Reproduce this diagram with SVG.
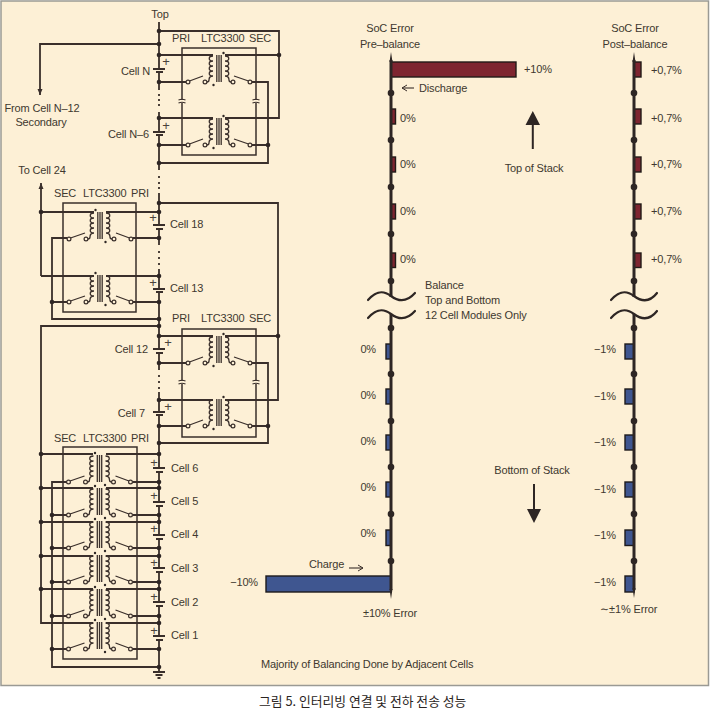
<svg xmlns="http://www.w3.org/2000/svg" width="711" height="710" viewBox="0 0 711 710">
<style>
text{font-family:"Liberation Sans",Arial,sans-serif;font-size:11px;fill:#40382f;letter-spacing:-.15px}
.m{text-anchor:middle}.e{text-anchor:end}
text.p{font-size:13px;text-anchor:middle;fill:#4a423a}
.w{fill:none;stroke:#3a2f2b;stroke-width:1.8}
.r{fill:none;stroke:#3a2f2b;stroke-width:1.5}
.t{fill:none;stroke:#3a2f2b;stroke-width:1.3}
.c{fill:#fdf0d6;stroke:#3a2f2b;stroke-width:1.2}
.n{fill:#2e2624}
.a{fill:none;stroke:#2e2624;stroke-width:3}
.v{fill:none;stroke:#2e2624;stroke-width:2.2;stroke-linecap:round}
.red{fill:#7e2530;stroke:#221a18;stroke-width:1.4}
.blu{fill:#3f5690;stroke:#1d1a1c;stroke-width:1.4}
.h{fill:none;stroke:#3a2f2b;stroke-width:1.1}
</style>
<defs>
<g id="xf">
<path class="t" d="M-2.200,0V27M0,0V27M2.200,0V27"/>
<path class="t" d="M-6,1c-5,0-5,5 0,5c-5,0-5,5 0,5c-5,0-5,5 0,5c-5,0-5,5 0,5c-3,0-4,2-4,4c0,1.500-1,2-2.200,2"/>
<path class="t" d="M6,1c5,0 5,5 0,5c5,0 5,5 0,5c5,0 5,5 0,5c5,0 5,5 0,5c3,0 4,2 4,4c0,1.500 1,2 2.200,2"/>
<path class="t" d="M-29.500,26L-16,21M29.500,26L15,21"/>
<circle class="c" cx="-31" cy="27" r="1.900"/><circle class="c" cx="-14" cy="27" r="1.900"/>
<circle class="c" cx="14" cy="27" r="1.900"/><circle class="c" cx="31" cy="27" r="1.900"/>
<circle class="n" cx="4.500" cy="-2" r="1.200"/><circle class="n" cx="-5.500" cy="30" r="1.200"/>
</g>
<marker id="ah" markerUnits="userSpaceOnUse" markerWidth="7" markerHeight="7" refX="6" refY="3" orient="auto"><path d="M0,.5L6,3L0,5.500z" fill="#3a2f2b"/></marker>
<marker id="oh" markerUnits="userSpaceOnUse" markerWidth="8" markerHeight="8" refX="7" refY="4" orient="auto"><path d="M2,1L7,4L2,7" fill="none" stroke="#3a2f2b" stroke-width="1"/></marker>
</defs>
<rect width="711" height="710" fill="#fff"/>
<rect x="1" y="1" width="707.500" height="684.500" fill="#fdf0d6" stroke="#9a9a94" stroke-width="1.500"/>

<g id="connectors">
<path class="w" d="M159,22V68M159,72V90M159,112V131M159,135V170M159,193V225M159,229V245M159,269V288M159,292V349M159,353V370M159,392V411M159,415V468M159,472V502M159,506V535M159,539V568M159,572V602M159,606V636M159,640V672"/>
<path class="w" d="M159,94V96M159,99V101M159,104V106M159,176V178M159,182V184M159,187V189M159,251V253M159,257V259M159,263V265M159,375V377M159,381V383M159,387V389"/>
<path class="w" d="M159,31H279V118H225M159,55H213M225,55H279"/>
<path class="w" d="M159,44H40V95" marker-end="url(#ah)"/>
<path class="w" d="M159,82H186M252,82H268V163H159M159,118H213M159,145H186M252,145H268"/>
<path class="w" d="M159,203H278V400H225M159,336H213M225,336H278M159,363H186M252,363H268V443H159M159,400H213M159,426H186M252,426H268"/>
<path class="w" d="M159,212H106M94,212H41M159,238H133M67,238H52V319H159M41,276H94M106,276H159M159,302H133M67,302H52"/>
<path class="w" d="M41,276V183" marker-end="url(#ah)"/>
<path class="w" d="M159,326H41V623H93M106,623H159M41,454H93M106,454H159M41,488H93M106,488H159M41,522H93M106,522H159M41,556H93M106,556H159M41,589H93M106,589H159"/>
<path class="w" d="M67,482H52V667H159M133,482H159M67,515H52M133,515H159M67,548H52M133,548H159M67,582H52M133,582H159M67,616H52M133,616H159M67,649H52M133,649H159"/>
<g>
<circle class="n" cx="159" cy="31" r="2.300"/><circle class="n" cx="159" cy="44" r="2.300"/><circle class="n" cx="159" cy="55" r="2.300"/><circle class="n" cx="159" cy="82" r="2.300"/><circle class="n" cx="159" cy="118" r="2.300"/><circle class="n" cx="159" cy="145" r="2.300"/><circle class="n" cx="159" cy="163" r="2.300"/><circle class="n" cx="159" cy="203" r="2.300"/><circle class="n" cx="159" cy="212" r="2.300"/><circle class="n" cx="159" cy="238" r="2.300"/><circle class="n" cx="159" cy="276" r="2.300"/><circle class="n" cx="159" cy="302" r="2.300"/><circle class="n" cx="159" cy="319" r="2.300"/><circle class="n" cx="159" cy="326" r="2.300"/><circle class="n" cx="159" cy="336" r="2.300"/><circle class="n" cx="159" cy="363" r="2.300"/><circle class="n" cx="159" cy="400" r="2.300"/><circle class="n" cx="159" cy="426" r="2.300"/><circle class="n" cx="159" cy="443" r="2.300"/><circle class="n" cx="159" cy="454" r="2.300"/><circle class="n" cx="159" cy="482" r="2.300"/><circle class="n" cx="159" cy="488" r="2.300"/><circle class="n" cx="159" cy="515" r="2.300"/><circle class="n" cx="159" cy="522" r="2.300"/><circle class="n" cx="159" cy="548" r="2.300"/><circle class="n" cx="159" cy="556" r="2.300"/><circle class="n" cx="159" cy="582" r="2.300"/><circle class="n" cx="159" cy="589" r="2.300"/><circle class="n" cx="159" cy="616" r="2.300"/><circle class="n" cx="159" cy="623" r="2.300"/><circle class="n" cx="159" cy="649" r="2.300"/><circle class="n" cx="159" cy="667" r="2.300"/>
<circle class="n" cx="279" cy="55" r="2.300"/><circle class="n" cx="268" cy="145" r="2.300"/><circle class="n" cx="278" cy="336" r="2.300"/><circle class="n" cx="268" cy="426" r="2.300"/>
<circle class="n" cx="41" cy="212" r="2.300"/><circle class="n" cx="52" cy="302" r="2.300"/>
<circle class="n" cx="41" cy="454" r="2.300"/><circle class="n" cx="41" cy="488" r="2.300"/><circle class="n" cx="41" cy="522" r="2.300"/><circle class="n" cx="41" cy="556" r="2.300"/><circle class="n" cx="41" cy="589" r="2.300"/>
<circle class="n" cx="52" cy="515" r="2.300"/><circle class="n" cx="52" cy="548" r="2.300"/><circle class="n" cx="52" cy="582" r="2.300"/><circle class="n" cx="52" cy="616" r="2.300"/><circle class="n" cx="52" cy="649" r="2.300"/>
</g>
</g>

<g id="cells">
<path class="w" d="M153,69H165M156,72H163M153,132H165M156,135H163M153,225H165M156,229H163M153,289H165M156,292H163M153,349H165M156,353H163M153,412H165M156,415H163M153,468H165M156,472H163M153,502H165M156,506H163M153,535H165M156,539H163M153,568H165M156,572H163M153,602H165M156,606H163M153,636H165M156,640H163"/>
<path class="w" d="M153,672H165M155.500,675H162.500M157.500,678H160.500"/>
<text x="166" y="66" class="p">+</text><text x="166" y="130" class="p">+</text><text x="153" y="222" class="p">+</text><text x="153" y="287" class="p">+</text><text x="168" y="347" class="p">+</text><text x="168" y="411" class="p">+</text><text x="154" y="467" class="p">+</text><text x="154" y="500" class="p">+</text><text x="154" y="533" class="p">+</text><text x="154" y="567" class="p">+</text><text x="154" y="601" class="p">+</text><text x="154" y="635" class="p">+</text>
</g>

<g id="module-top">
<path class="r" d="M182,100V48H256V100M256,103V155H182V103"/>
<path class="h" d="M178.500,100q3.500,-1.500 7,0M178.500,103q3.500,-1.500 7,0M252.500,100q3.500,-1.500 7,0M252.500,103q3.500,-1.500 7,0"/>
<use href="#xf" transform="translate(219,55)"/><use href="#xf" transform="translate(219,118)"/>
<text x="172" y="42">PRI</text><text x="201" y="42">LTC3300</text><text x="249" y="42">SEC</text>
</g>
<g id="module-mid-left">
<path class="r" d="M63,203H136V312H63Z"/>
<use href="#xf" transform="translate(100,212) scale(-1,1)"/><use href="#xf" transform="translate(100,275) scale(-1,1)"/>
<text x="54" y="197">SEC</text><text x="83" y="197">LTC3300</text><text x="131" y="197">PRI</text>
</g>
<g id="module-12">
<path class="r" d="M182,381V329H256V381M256,384V437H182V384"/>
<path class="h" d="M178.500,381q3.500,-1.500 7,0M178.500,384q3.500,-1.500 7,0M252.500,381q3.500,-1.500 7,0M252.500,384q3.500,-1.500 7,0"/>
<use href="#xf" transform="translate(219,336)"/><use href="#xf" transform="translate(219,399)"/>
<text x="172" y="322">PRI</text><text x="201" y="322">LTC3300</text><text x="249" y="322">SEC</text>
</g>
<g id="module-bottom">
<path class="r" d="M63,447H137V659H63Z"/>
<use href="#xf" transform="translate(99.500,455) scale(-1,1)"/><use href="#xf" transform="translate(99.500,488) scale(-1,1)"/><use href="#xf" transform="translate(99.500,521) scale(-1,1)"/><use href="#xf" transform="translate(99.500,555) scale(-1,1)"/><use href="#xf" transform="translate(99.500,589) scale(-1,1)"/><use href="#xf" transform="translate(99.500,622) scale(-1,1)"/>
<text x="54" y="442">SEC</text><text x="83" y="442">LTC3300</text><text x="131" y="442">PRI</text>
</g>

<g id="circuit-labels">
<text x="160" y="18" class="m">Top</text>
<text x="150" y="75" class="e">Cell N</text><text x="149" y="138" class="e">Cell N–6</text>
<text x="42" y="112" class="m">From Cell N–12</text><text x="41" y="126" class="m">Secondary</text>
<text x="42" y="174" class="m">To Cell 24</text>
<text x="170" y="228">Cell 18</text><text x="170" y="292">Cell 13</text>
<text x="148" y="353" class="e">Cell 12</text><text x="145" y="417" class="e">Cell 7</text>
<text x="171" y="472">Cell 6</text><text x="171" y="505">Cell 5</text><text x="171" y="538">Cell 4</text><text x="171" y="572">Cell 3</text><text x="171" y="606">Cell 2</text><text x="171" y="639">Cell 1</text>
</g>

<g id="chart-pre">
<rect class="red" x="391" y="62" width="125" height="15"/>
<rect class="red" x="391" y="109" width="4.500" height="15"/><rect class="red" x="391" y="157" width="4.500" height="15"/><rect class="red" x="391" y="204" width="4.500" height="15"/><rect class="red" x="391" y="253" width="4.500" height="14.500"/>
<rect class="blu" x="386" y="344" width="5" height="15"/><rect class="blu" x="386" y="389" width="5" height="15"/><rect class="blu" x="386" y="435" width="5" height="15"/><rect class="blu" x="386" y="482" width="5" height="15"/><rect class="blu" x="386" y="530" width="5" height="15.500"/>
<rect class="blu" x="266" y="576" width="125" height="16"/>
<path class="a" d="M391,60V297M391,314V590"/>
<path class="n" d="M391,52L392.500,62H389.500ZM391,599L392.500,589H389.500Z"/>
<circle class="n" cx="391" cy="93" r="3.300"/><circle class="n" cx="391" cy="140" r="3.300"/><circle class="n" cx="391" cy="187" r="3.300"/><circle class="n" cx="391" cy="234" r="3.300"/><circle class="n" cx="391" cy="281" r="3.300"/><circle class="n" cx="391" cy="328" r="3.300"/><circle class="n" cx="391" cy="374" r="3.300"/><circle class="n" cx="391" cy="421" r="3.300"/><circle class="n" cx="391" cy="467" r="3.300"/><circle class="n" cx="391" cy="514" r="3.300"/><circle class="n" cx="391" cy="561" r="3.300"/>
<path class="v" d="M368,300C376,291 383,290 391,296C399,302 407,302 415,293M368,318C376,309 383,308 391,314C399,320 407,320 415,311"/>
<text x="390" y="32" class="m">SoC Error</text><text x="390" y="48" class="m">Pre–balance</text>
<text x="524" y="73">+10%</text>
<path class="h" d="M414,88H402" marker-end="url(#oh)"/>
<text x="419" y="92">Discharge</text>
<text x="400" y="122">0%</text><text x="400" y="168">0%</text><text x="400" y="215">0%</text><text x="400" y="263">0%</text>
<text x="425" y="289">Balance</text><text x="425" y="304">Top and Bottom</text><text x="425" y="319">12 Cell Modules Only</text>
<text x="376" y="353" class="e">0%</text><text x="376" y="399" class="e">0%</text><text x="376" y="445" class="e">0%</text><text x="376" y="491" class="e">0%</text><text x="376" y="537" class="e">0%</text>
<text x="309" y="568">Charge</text>
<path class="h" d="M349,568H363" marker-end="url(#oh)"/>
<text x="258" y="586" class="e">−10%</text>
<text x="363" y="617">±10% Error</text>
</g>

<g id="chart-post">
<rect class="red" x="634" y="62" width="7" height="15"/><rect class="red" x="634" y="109" width="7" height="15"/><rect class="red" x="634" y="157" width="7" height="15"/><rect class="red" x="634" y="204" width="7" height="15"/><rect class="red" x="634" y="253" width="7" height="14.500"/>
<rect class="blu" x="625" y="344" width="9" height="15"/><rect class="blu" x="625" y="389" width="9" height="15"/><rect class="blu" x="625" y="435" width="9" height="15"/><rect class="blu" x="625" y="482" width="9" height="15"/><rect class="blu" x="625" y="530" width="9" height="15.500"/><rect class="blu" x="625" y="576" width="9" height="16"/>
<path class="a" d="M634,60V297M634,314V590"/>
<path class="n" d="M634,52L635.500,62H632.500ZM634,598L635.500,588H632.500Z"/>
<circle class="n" cx="634" cy="93" r="3.300"/><circle class="n" cx="634" cy="140" r="3.300"/><circle class="n" cx="634" cy="187" r="3.300"/><circle class="n" cx="634" cy="234" r="3.300"/><circle class="n" cx="634" cy="281" r="3.300"/><circle class="n" cx="634" cy="328" r="3.300"/><circle class="n" cx="634" cy="374" r="3.300"/><circle class="n" cx="634" cy="421" r="3.300"/><circle class="n" cx="634" cy="467" r="3.300"/><circle class="n" cx="634" cy="514" r="3.300"/><circle class="n" cx="634" cy="561" r="3.300"/>
<path class="v" d="M611,300C619,291 626,290 634,296C642,302 650,302 657,293M611,318C619,309 626,308 634,314C642,320 650,320 657,311"/>
<text x="635" y="32" class="m">SoC Error</text><text x="635" y="48" class="m">Post–balance</text>
<text x="651" y="74">+0,7%</text><text x="651" y="122">+0,7%</text><text x="651" y="168">+0,7%</text><text x="651" y="215">+0,7%</text><text x="651" y="263">+0,7%</text>
<text x="594" y="353">−1%</text><text x="594" y="400">−1%</text><text x="594" y="446">−1%</text><text x="594" y="493">−1%</text><text x="594" y="539">−1%</text><text x="594" y="586">−1%</text>
<text x="600" y="613"><tspan style="font-family:'DejaVu Sans',sans-serif">∼</tspan>±1% Error</text>
</g>

<g id="stack-arrows">
<path class="n" d="M531.800,149V125H525.500L532.800,111L540,125H533.800V149Z"/>
<text x="534" y="172" class="m">Top of Stack</text>
<text x="532" y="474" class="m">Bottom of Stack</text>
<path class="n" d="M533,484V509H527L534,523L541,509H535V484Z"/>
</g>

<text x="261" y="668">Majority of Balancing Done by Adjacent Cells</text>
<text x="259" y="706" style="font-family:'Noto Sans CJK KR','Liberation Sans',sans-serif;font-size:12.800px;font-weight:400;letter-spacing:0;fill:#2a2422">그림 5. 인터리빙 연결 및 전하 전송 성능</text>
</svg>
